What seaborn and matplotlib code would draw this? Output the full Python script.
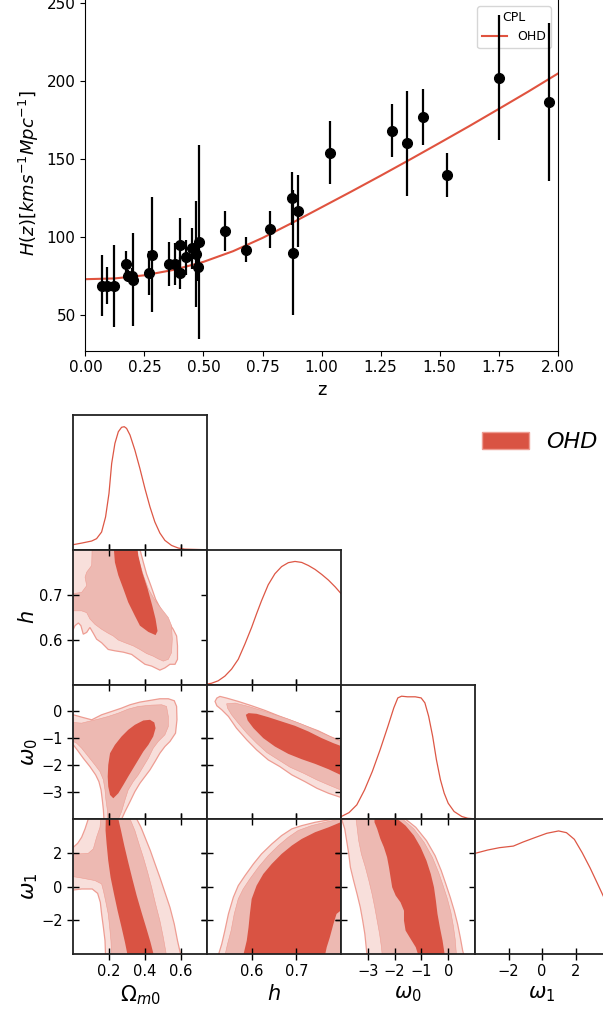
import matplotlib
matplotlib.use("Agg")
import matplotlib.pyplot as plt
import seaborn as sns
from matplotlib.patches import Patch

# ---------------- top panel data ----------------
z_obs = [0.07, 0.09, 0.12, 0.17, 0.179, 0.199, 0.2, 0.27, 0.28, 0.352, 0.3802, 0.4, 0.4004,
         0.4247, 0.4497, 0.47, 0.4783, 0.48, 0.593, 0.68, 0.781, 0.875, 0.88, 0.9, 1.037,
         1.3, 1.363, 1.43, 1.53, 1.75, 1.965]
H_obs = [69, 69, 68.6, 83, 75, 75, 72.9, 77, 88.8, 83, 83, 95, 77, 87.1, 92.8, 89, 80.9, 97,
         104, 92, 105, 125, 90, 117, 154, 168, 160, 177, 140, 202, 186.5]
H_err = [19.6, 12, 26.2, 8, 4, 5, 29.6, 14, 36.6, 14, 13.5, 17, 10.2, 11.2, 12.9, 34, 9, 62,
         13, 8, 12, 17, 40, 23, 20, 17, 33.6, 18, 14, 40, 50.4]
z_fit = [0.0, 0.125, 0.25, 0.375, 0.5, 0.625, 0.75, 0.875, 1.0, 1.125, 1.25, 1.375, 1.5,
         1.625, 1.75, 1.875, 2.0]
H_fit = [73.1, 73.6, 75.6, 79.1, 84.2, 91.0, 99.5, 109.1, 119.1, 129.1, 139.3, 149.7, 160.3,
         171.0, 182.0, 193.1, 204.6]
x_ticks_top = [0.0, 0.25, 0.5, 0.75, 1.0, 1.25, 1.5, 1.75, 2.0]
y_ticks_top = [50, 100, 150, 200, 250]

# ---------------- corner plot: 1D marginals ----------------
om_grid = [0.0, 0.048, 0.104, 0.131, 0.159, 0.181, 0.2, 0.215, 0.233, 0.252, 0.270, 0.285, 0.298,
           0.317, 0.344, 0.372, 0.4, 0.428, 0.455, 0.483, 0.511, 0.548, 0.585, 0.622, 0.746]
om_pdf = [0.041, 0.054, 0.071, 0.090, 0.144, 0.266, 0.457, 0.701, 0.864, 0.959, 0.995, 1.0, 0.986,
          0.932, 0.810, 0.660, 0.497, 0.348, 0.226, 0.136, 0.076, 0.035, 0.014, 0.005, 0.0]
h_grid = [0.499, 0.510, 0.525, 0.540, 0.555, 0.570, 0.585, 0.6, 0.611, 0.622, 0.637, 0.652, 0.667,
          0.682, 0.697, 0.712, 0.727, 0.742, 0.757, 0.772, 0.787, 0.8]
h_pdf = [0.003, 0.010, 0.030, 0.068, 0.125, 0.205, 0.330, 0.465, 0.575, 0.680, 0.810, 0.900, 0.958,
         0.990, 1.0, 0.992, 0.967, 0.935, 0.894, 0.848, 0.793, 0.739]
w0_grid = [-3.99, -3.70, -3.41, -3.12, -2.83, -2.54, -2.25, -2.03, -1.88, -1.74, -1.52, -1.23, -1.01,
           -0.87, -0.73, -0.58, -0.44, -0.29, -0.15, 0.0, 0.22, 0.51, 0.73, 1.02]
w0_pdf = [0.022, 0.054, 0.117, 0.239, 0.389, 0.565, 0.755, 0.905, 0.986, 1.0, 0.995, 0.995, 0.986,
          0.946, 0.837, 0.674, 0.484, 0.321, 0.212, 0.130, 0.063, 0.022, 0.008, 0.003]
w1_grid = [-4.02, -3.24, -2.54, -1.71, -1.13, -0.42, 0.29, 0.99, 1.46, 1.93, 2.40, 2.87, 3.34, 3.76]
w1_pdf = [0.817, 0.845, 0.864, 0.877, 0.910, 0.946, 0.981, 1.0, 0.986, 0.932, 0.823, 0.700, 0.564, 0.441]

# ---------------- corner plot: 2D credible regions (boundaries) ----------------
om_h_outer = [(-0.026, 0.817), (0.372, 0.817), (0.372, 0.801), (0.391, 0.772), (0.409, 0.746),
              (0.433, 0.720), (0.459, 0.690), (0.493, 0.664), (0.526, 0.642), (0.557, 0.623),
              (0.576, 0.608), (0.581, 0.586), (0.581, 0.556), (0.567, 0.545), (0.539, 0.545),
              (0.511, 0.537), (0.483, 0.532), (0.437, 0.541), (0.4, 0.545), (0.363, 0.556),
              (0.326, 0.567), (0.280, 0.572), (0.233, 0.575), (0.196, 0.578), (0.159, 0.593),
              (0.131, 0.601), (0.113, 0.614), (0.094, 0.627), (0.076, 0.616), (0.057, 0.612),
              (0.044, 0.631), (0.030, 0.637), (0.011, 0.631), (0.002, 0.623), (-0.026, 0.623)]
om_h_mid = [(0.107, 0.817), (0.344, 0.817), (0.363, 0.780), (0.391, 0.743), (0.419, 0.713),
            (0.456, 0.687), (0.493, 0.668), (0.530, 0.649), (0.548, 0.631), (0.552, 0.601),
            (0.548, 0.571), (0.530, 0.556), (0.502, 0.552), (0.474, 0.557), (0.446, 0.563),
            (0.409, 0.569), (0.372, 0.578), (0.335, 0.586), (0.289, 0.593), (0.252, 0.599),
            (0.224, 0.608), (0.196, 0.614), (0.159, 0.623), (0.122, 0.634), (0.094, 0.646),
            (0.076, 0.660), (0.048, 0.664), (-0.026, 0.664), (-0.026, 0.701), (0.048, 0.705),
            (0.076, 0.720), (0.067, 0.739), (0.076, 0.750), (0.104, 0.765)]
om_h_inner = [(0.224, 0.817), (0.354, 0.817), (0.363, 0.787), (0.385, 0.750), (0.415, 0.713),
              (0.441, 0.675), (0.459, 0.646), (0.470, 0.619), (0.459, 0.610), (0.419, 0.617),
              (0.372, 0.631), (0.344, 0.653), (0.307, 0.683), (0.280, 0.713), (0.252, 0.743),
              (0.233, 0.772)]

om_w0_outer = [(-0.026, -0.062), (0.002, -0.124), (0.048, -0.211), (0.104, -0.310), (0.159, -0.124),
               (0.215, 0.0), (0.270, 0.124), (0.317, 0.248), (0.372, 0.347), (0.428, 0.409),
               (0.483, 0.471), (0.530, 0.471), (0.563, 0.397), (0.576, 0.186), (0.578, -0.310),
               (0.570, -0.805), (0.539, -1.115), (0.511, -1.301), (0.483, -1.549), (0.456, -1.859),
               (0.428, -2.168), (0.4, -2.416), (0.372, -2.664), (0.344, -2.974), (0.317, -3.346),
               (0.289, -3.717), (0.270, -4.002), (0.252, -4.275), (0.178, -4.275), (0.172, -4.002),
               (0.169, -3.655), (0.163, -3.284), (0.156, -2.912), (0.144, -2.602), (0.126, -2.354),
               (0.094, -2.045), (0.057, -1.735), (0.026, -1.450), (0.002, -1.239), (-0.026, -1.177)]
om_w0_mid = [(-0.026, -0.409), (0.002, -0.409), (0.048, -0.434), (0.085, -0.372), (0.141, -0.285),
             (0.196, -0.186), (0.252, -0.062), (0.307, 0.087), (0.363, 0.186), (0.437, 0.235),
             (0.493, 0.248), (0.520, 0.186), (0.530, -0.186), (0.530, -0.558), (0.511, -0.867),
             (0.474, -1.115), (0.446, -1.363), (0.419, -1.735), (0.391, -2.045), (0.363, -2.354),
             (0.335, -2.602), (0.307, -2.912), (0.289, -3.284), (0.270, -3.717), (0.252, -4.002),
             (0.243, -4.275), (0.193, -4.275), (0.191, -3.655), (0.183, -3.284), (0.178, -2.912),
             (0.169, -2.540), (0.150, -2.230), (0.122, -1.983), (0.085, -1.673), (0.048, -1.363),
             (0.020, -1.177), (0.002, -1.115), (-0.026, -1.115)]
om_w0_inner = [(0.193, -2.416), (0.196, -1.983), (0.206, -1.549), (0.233, -1.239), (0.270, -0.929),
               (0.307, -0.682), (0.344, -0.496), (0.391, -0.335), (0.428, -0.310), (0.452, -0.409),
               (0.459, -0.620), (0.446, -0.929), (0.419, -1.239), (0.391, -1.487), (0.363, -1.797),
               (0.335, -2.107), (0.307, -2.416), (0.280, -2.726), (0.252, -3.036), (0.224, -3.222),
               (0.206, -3.098), (0.196, -2.788)]

om_w1_outer = [(-0.026, 2.34), (0.002, 2.34), (0.026, 2.57), (0.048, 2.93), (0.067, 3.43),
               (0.085, 4.02), (0.085, 4.51), (0.354, 4.51), (0.354, 4.02), (0.378, 3.52),
               (0.404, 2.83), (0.430, 2.14), (0.456, 1.35), (0.483, 0.55), (0.511, -0.34),
               (0.539, -1.23), (0.563, -2.22), (0.581, -3.21), (0.6, -4.10), (0.181, -4.10),
               (0.178, -3.21), (0.169, -2.42), (0.159, -1.62), (0.152, -0.93), (0.137, -0.40),
               (0.107, -0.14), (0.048, -0.14), (0.002, -0.20), (-0.026, -0.24)]
om_w1_mid = [(-0.026, 1.84), (0.030, 1.94), (0.085, 1.98), (0.113, 2.24), (0.131, 2.93),
             (0.150, 3.52), (0.159, 4.51), (0.317, 4.51), (0.317, 4.02), (0.344, 3.33),
             (0.367, 2.53), (0.391, 1.74), (0.415, 0.85), (0.437, -0.04), (0.459, -1.03),
             (0.483, -2.02), (0.502, -3.01), (0.520, -4.10), (0.215, -4.10), (0.211, -3.21),
             (0.204, -2.42), (0.196, -1.62), (0.181, -0.83), (0.169, -0.24), (0.159, 0.16),
             (0.122, 0.36), (0.048, 0.51), (0.002, 0.59), (-0.026, 0.59)]
om_w1_inner = [(0.183, 4.51), (0.252, 4.51), (0.252, 4.02), (0.267, 3.33), (0.285, 2.44),
               (0.307, 1.45), (0.330, 0.46), (0.354, -0.53), (0.381, -1.52), (0.409, -2.51),
               (0.431, -3.31), (0.450, -4.10), (0.304, -4.10), (0.289, -3.31), (0.270, -2.42),
               (0.248, -1.43), (0.228, -0.44), (0.209, 0.55), (0.196, 1.54), (0.187, 2.53),
               (0.181, 3.33)]

h_w0_outer = [(0.518, 0.372), (0.522, 0.496), (0.529, 0.558), (0.544, 0.496), (0.570, 0.372),
              (0.6, 0.211), (0.630, 0.037), (0.660, -0.161), (0.690, -0.347), (0.719, -0.533),
              (0.749, -0.719), (0.775, -0.929), (0.799, -1.090), (0.816, -1.177), (0.816, -3.284),
              (0.799, -3.185), (0.772, -3.036), (0.746, -2.850), (0.719, -2.602), (0.690, -2.354),
              (0.663, -2.045), (0.637, -1.797), (0.611, -1.425), (0.589, -1.053), (0.566, -0.620),
              (0.548, -0.186), (0.533, 0.062), (0.522, 0.211)]
h_w0_mid = [(0.544, 0.285), (0.563, 0.310), (0.593, 0.186), (0.622, 0.037), (0.652, -0.124),
            (0.682, -0.285), (0.712, -0.471), (0.742, -0.682), (0.772, -0.905), (0.799, -1.115),
            (0.816, -1.177), (0.816, -3.036), (0.799, -2.912), (0.772, -2.726), (0.746, -2.540),
            (0.716, -2.292), (0.686, -2.069), (0.660, -1.797), (0.634, -1.524), (0.611, -1.177),
            (0.589, -0.805), (0.570, -0.434), (0.555, -0.124), (0.546, 0.124)]
h_w0_inner = [(0.587, -0.124), (0.593, -0.062), (0.611, -0.087), (0.637, -0.211), (0.667, -0.372),
              (0.697, -0.533), (0.727, -0.743), (0.757, -0.991), (0.783, -1.177), (0.799, -1.276),
              (0.816, -1.363), (0.816, -2.416), (0.799, -2.354), (0.772, -2.144), (0.742, -1.945),
              (0.712, -1.772), (0.682, -1.574), (0.652, -1.301), (0.626, -0.991), (0.604, -0.620),
              (0.591, -0.335)]

h_w1_outer = [(0.525, -4.10), (0.533, -3.41), (0.540, -2.61), (0.548, -1.62), (0.559, -0.63),
              (0.570, 0.06), (0.585, 0.65), (0.604, 1.35), (0.622, 1.94), (0.645, 2.53),
              (0.667, 3.03), (0.690, 3.43), (0.712, 3.62), (0.742, 3.82), (0.772, 3.96),
              (0.799, 4.12), (0.816, 4.51), (0.816, -4.10)]
h_w1_mid = [(0.540, -4.10), (0.546, -3.41), (0.554, -2.61), (0.561, -1.62), (0.570, -0.73),
            (0.581, -0.14), (0.596, 0.46), (0.615, 1.15), (0.637, 1.84), (0.660, 2.44),
            (0.682, 2.93), (0.704, 3.33), (0.734, 3.62), (0.764, 3.82), (0.799, 4.02),
            (0.816, 4.32), (0.816, -4.10)]
h_w1_inner = [(0.581, -4.10), (0.589, -3.21), (0.593, -2.42), (0.596, -1.62), (0.6, -0.73),
              (0.611, 0.06), (0.626, 0.75), (0.645, 1.35), (0.667, 1.94), (0.690, 2.44),
              (0.712, 2.83), (0.742, 3.23), (0.772, 3.52), (0.799, 3.82), (0.799, -1.43),
              (0.790, -1.62), (0.783, -2.22), (0.775, -3.01), (0.768, -3.60), (0.764, -4.10)]

w0_w1_outer = [(-3.84, 4.51), (-3.96, 3.92), (-3.86, 3.43), (-3.79, 2.73), (-3.71, 1.94),
               (-3.65, 1.15), (-3.53, 0.36), (-3.40, -0.44), (-3.28, -1.23), (-3.19, -2.02),
               (-3.11, -2.81), (-3.06, -3.60), (-3.03, -4.10), (0.59, -4.10), (0.54, -3.80),
               (0.45, -3.01), (0.35, -2.22), (0.225, -1.43), (0.075, -0.63), (-0.09, 0.16),
               (-0.26, 0.95), (-0.49, 1.84), (-0.81, 2.73), (-1.21, 3.52), (-1.65, 4.08),
               (-1.71, 4.51)]
w0_w1_mid = [(-3.44, 4.51), (-3.44, 4.02), (-3.40, 3.52), (-3.34, 2.73), (-3.24, 1.94),
             (-3.09, 1.15), (-2.96, 0.36), (-2.84, -0.44), (-2.74, -1.23), (-2.65, -2.02),
             (-2.56, -2.81), (-2.49, -3.60), (-2.46, -4.10), (0.31, -4.10), (0.26, -3.11),
             (0.19, -2.32), (0.10, -1.52), (-0.03, -0.73), (-0.19, 0.06), (-0.36, 0.85),
             (-0.59, 1.74), (-0.90, 2.63), (-1.28, 3.43), (-1.71, 4.02), (-1.78, 4.51)]
w0_w1_inner = [(-2.75, 4.51), (-1.90, 4.51), (-1.90, 4.02), (-1.59, 3.62), (-1.28, 3.03),
               (-1.03, 2.34), (-0.81, 1.54), (-0.65, 0.75), (-0.53, -0.04), (-0.46, -0.83),
               (-0.40, -1.62), (-0.31, -2.42), (-0.21, -3.21), (-0.125, -4.10), (-1.11, -4.10),
               (-1.21, -3.60), (-1.40, -3.11), (-1.59, -2.61), (-1.65, -2.02), (-1.65, -1.43),
               (-1.78, -0.93), (-1.96, -0.53), (-2.09, -0.04), (-2.15, 0.55), (-2.21, 1.15),
               (-2.28, 1.74), (-2.40, 2.34), (-2.53, 2.83), (-2.65, 3.43), (-2.75, 3.82)]

params = ["om", "h", "w0", "w1"]
param_labels = {"om": r"$\Omega_{m0}$", "h": r"$h$", "w0": r"$\omega_0$", "w1": r"$\omega_1$"}
param_lims = {"om": (0.0, 0.745), "h": (0.5, 0.8), "w0": (-4.0, 1.0), "w1": (-4.0, 4.0)}
param_ticks = {"om": [0.2, 0.4, 0.6], "h": [0.6, 0.7], "w0": [-3, -2, -1, 0], "w1": [-2, 0, 2]}
marginals = {"om": (om_grid, om_pdf), "h": (h_grid, h_pdf), "w0": (w0_grid, w0_pdf),
             "w1": (w1_grid, w1_pdf)}
regions = {("om", "h"): (om_h_outer, om_h_mid, om_h_inner),
           ("om", "w0"): (om_w0_outer, om_w0_mid, om_w0_inner),
           ("om", "w1"): (om_w1_outer, om_w1_mid, om_w1_inner),
           ("h", "w0"): (h_w0_outer, h_w0_mid, h_w0_inner),
           ("h", "w1"): (h_w1_outer, h_w1_mid, h_w1_inner),
           ("w0", "w1"): (w0_w1_outer, w0_w1_mid, w0_w1_inner)}

# ---------------- styling ----------------
C_DARK = "#d95343"
C_MID = "#edb9b2"
C_LIGHT = "#f8dfdb"
C_EDGE = "#ee9d93"
C_LINE = "#dd5745"
C_FIT = "#e0533f"

W, Hpx = 603, 1010


def box(x0, y0, x1, y1):
    return [x0 / W, 1 - y1 / Hpx, (x1 - x0) / W, (y1 - y0) / Hpx]


fig = plt.figure(figsize=(W / 100, Hpx / 100), dpi=100)

# ---------------- top panel ----------------
ax = fig.add_axes(box(85.4, -5.1, 557.7, 350.7))
ax.errorbar(z_obs, H_obs, yerr=H_err, fmt="o", color="black", ms=7, elinewidth=1.6,
            capsize=0, zorder=3)
sns.lineplot(x=z_fit, y=H_fit, ax=ax, color=C_FIT, lw=1.5, label="OHD", zorder=2)
ax.set_xlim(0, 2)
ax.set_ylim(27.35, 255)
ax.set_xticks(x_ticks_top)
ax.set_yticks(y_ticks_top)
ax.tick_params(labelsize=11)
ax.set_xlabel("z", fontsize=13)
ax.set_ylabel(r"$H(z)[kms^{-1}Mpc^{-1}]$", fontsize=13)
leg = ax.legend(title="CPL", loc="upper right", bbox_to_anchor=(0.9858, 0.9688),
                borderaxespad=0, fontsize=9, title_fontsize=9)
leg.set_zorder(2.5)

# ---------------- corner plot ----------------
X0, Y0, DX, DY = 73.0, 415.0, 134.0, 134.75
n = len(params)
for i in range(n):
    for j in range(i + 1):
        px, py = params[j], params[i]
        a = fig.add_axes(box(X0 + j * DX, Y0 + i * DY, X0 + (j + 1) * DX, Y0 + (i + 1) * DY))
        if i == j:
            g, p = marginals[px]
            sns.lineplot(x=g, y=p, ax=a, color=C_LINE, lw=0.9, sort=False)
            a.set_ylim(0, 1.095)
            a.set_yticks([])
            a.tick_params(axis="x", direction="inout", length=8, width=1.0, bottom=True, top=False)
        else:
            outer, mid, inner = regions[(px, py)]
            for poly, fc, ec, lw in ((outer, C_LIGHT, C_EDGE, 0.9), (mid, C_MID, C_EDGE, 0.4),
                                     (inner, C_DARK, C_DARK, 0.0)):
                xs = [q[0] for q in poly]
                ys = [q[1] for q in poly]
                a.fill(xs, ys, facecolor=fc, edgecolor=ec, lw=lw)
            a.set_ylim(*param_lims[py])
            a.set_yticks(param_ticks[py])
            a.tick_params(direction="inout", length=8, width=1.0, left=True, right=True,
                          top=True, bottom=True)
        a.set_xlim(*param_lims[px])
        a.set_xticks(param_ticks[px])
        for s in a.spines.values():
            s.set_linewidth(1.3)
            s.set_color("#222222")
        a.set_xlabel("")
        a.set_ylabel("")
        if i == n - 1:
            a.tick_params(axis="x", labelsize=10.5, labelbottom=True)
            a.set_xlabel(param_labels[px], fontsize=15, labelpad=3)
        else:
            a.tick_params(axis="x", labelbottom=False)
        if j == 0 and i > 0:
            a.tick_params(axis="y", labelsize=10.5, labelleft=True)
            a.set_ylabel(param_labels[py], fontsize=15, labelpad=1)
        else:
            a.tick_params(axis="y", labelleft=False)

fig.legend(handles=[Patch(facecolor=C_DARK, edgecolor=C_EDGE)], labels=["OHD"],
           loc="upper left", bbox_to_anchor=(462 / W, 1 - 412 / Hpx), frameon=False,
           prop={"style": "italic", "size": 16}, handlelength=2.1, handleheight=0.77,
           handletextpad=0.8)

fig.savefig("out.png", dpi=100)
